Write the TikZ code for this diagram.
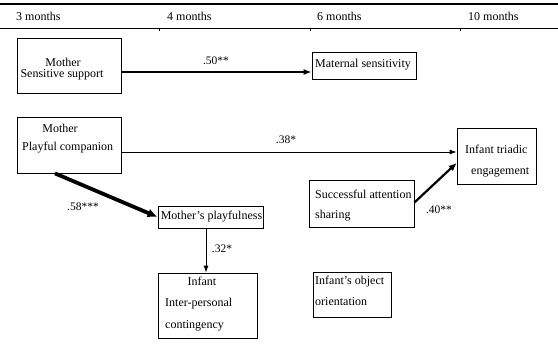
\documentclass[tikz,border=0pt]{standalone}
\usepackage{fontspec}
\setmainfont{Liberation Serif}
\usetikzlibrary{arrows.meta,calc}
\begin{document}
\begin{tikzpicture}[x=1pt,y=-1pt,
  box/.style={draw,line width=0.8pt,inner sep=0pt},
  txt/.style={inner sep=0pt,font=\fontsize{12}{14}\selectfont},
  ltxt/.style={txt,anchor=west},
  lab/.style={inner sep=0pt,font=\fontsize{11.5}{13}\selectfont},
  arr/.style={-{Latex[length=7pt,width=5pt]},line width=0.8pt}]
\useasboundingbox (0,0) rectangle (558,349);
% header
\draw[line width=2.8pt] (0,4) -- (558,4);
\draw[line width=0.8pt] (0,28) -- (558,28);
\foreach \x in {159,310,460} \draw[line width=0.8pt] (\x,28) -- (\x,31);
\node[ltxt] (h3) at (16,16.5) {3 months};
\node[ltxt] (h4) at (167,16.5) {4 months};
\node[ltxt] (h6) at (317,16.5) {6 months};
\node[ltxt] (h10) at (468,16.5) {10 months};
% boxes
\node[box,minimum width=104pt,minimum height=55pt] (B1) at (69,65.5) {};
\node[txt] (B1a) at (63,62) {Mother};
\node[txt] (B1b) at (62,75) {Sensitive support};
\node[box,minimum width=104pt,minimum height=27pt] (MS) at (364,65.5) {};
\node[ltxt] (MSa) at (315,65) {Maternal sensitivity};
\node[box,minimum width=104pt,minimum height=56pt] (B2) at (69,145) {};
\node[txt] (B2a) at (60,128) {Mother};
\node[ltxt] (B2b) at (22,148) {Playful companion};
\node[box,minimum width=79pt,minimum height=56pt] (ITE) at (496.5,156) {};
\node[ltxt] (ITEa) at (465,149) {Infant triadic};
\node[ltxt] (ITEb) at (471,172) {engagement};
\node[box,minimum width=105pt,minimum height=47pt] (SAS) at (361.5,203.5) {};
\node[ltxt] (SASa) at (315,194) {Successful attention};
\node[ltxt] (SASb) at (315,216) {sharing};
\node[box,minimum width=105pt,minimum height=22pt] (MP) at (210.5,217) {};
\node[txt] (MPa) at (211.5,216.5) {Mother’s playfulness};
\node[box,minimum width=99pt,minimum height=65pt] (IIC) at (207.5,305.5) {};
\node[txt] (IICa) at (202,281) {Infant};
\node[ltxt] (IICb) at (165,304) {Inter-personal};
\node[ltxt] (IICc) at (165,326) {contingency};
\node[box,minimum width=78pt,minimum height=45pt] (IOO) at (352,294.5) {};
\node[ltxt] (IOOa) at (315,282) {Infant’s object};
\node[ltxt] (IOOb) at (315,302) {orientation};
% connectors
\draw[-{Latex[length=8pt,width=6pt]},line width=2.2pt] ($(B1.east)+(0,6.5)$) coordinate (a1) -- (a1 -| MS.west);
\node[lab] (l1) at (216,61) {.50**};
\draw[arr] ($(B2.east)+(0,7)$) coordinate (a2) -- (a2 -| ITE.west);
\node[lab] (l2) at (286,140) {.38*};
\draw[-{Latex[length=10pt,width=9pt]},line width=3.8pt] ($(B2.south)+(-14,0)$) -- ($(MP.west)+(0,0)$);
\node[lab] (l3) at (83,207) {.58***};
\draw[arr] ($(MP.south)+(-4.5,0)$) coordinate (a4) -- (a4 |- IIC.north);
\node[lab] (l4) at (222,249) {.32*};
\draw[-{Latex[length=8pt,width=7pt]},line width=2.2pt] ($(SAS.east)+(0,-1)$) -- ($(ITE.west)+(0,7)$);
\node[lab] (l5) at (439,210) {.40**};
\end{tikzpicture}
\end{document}
